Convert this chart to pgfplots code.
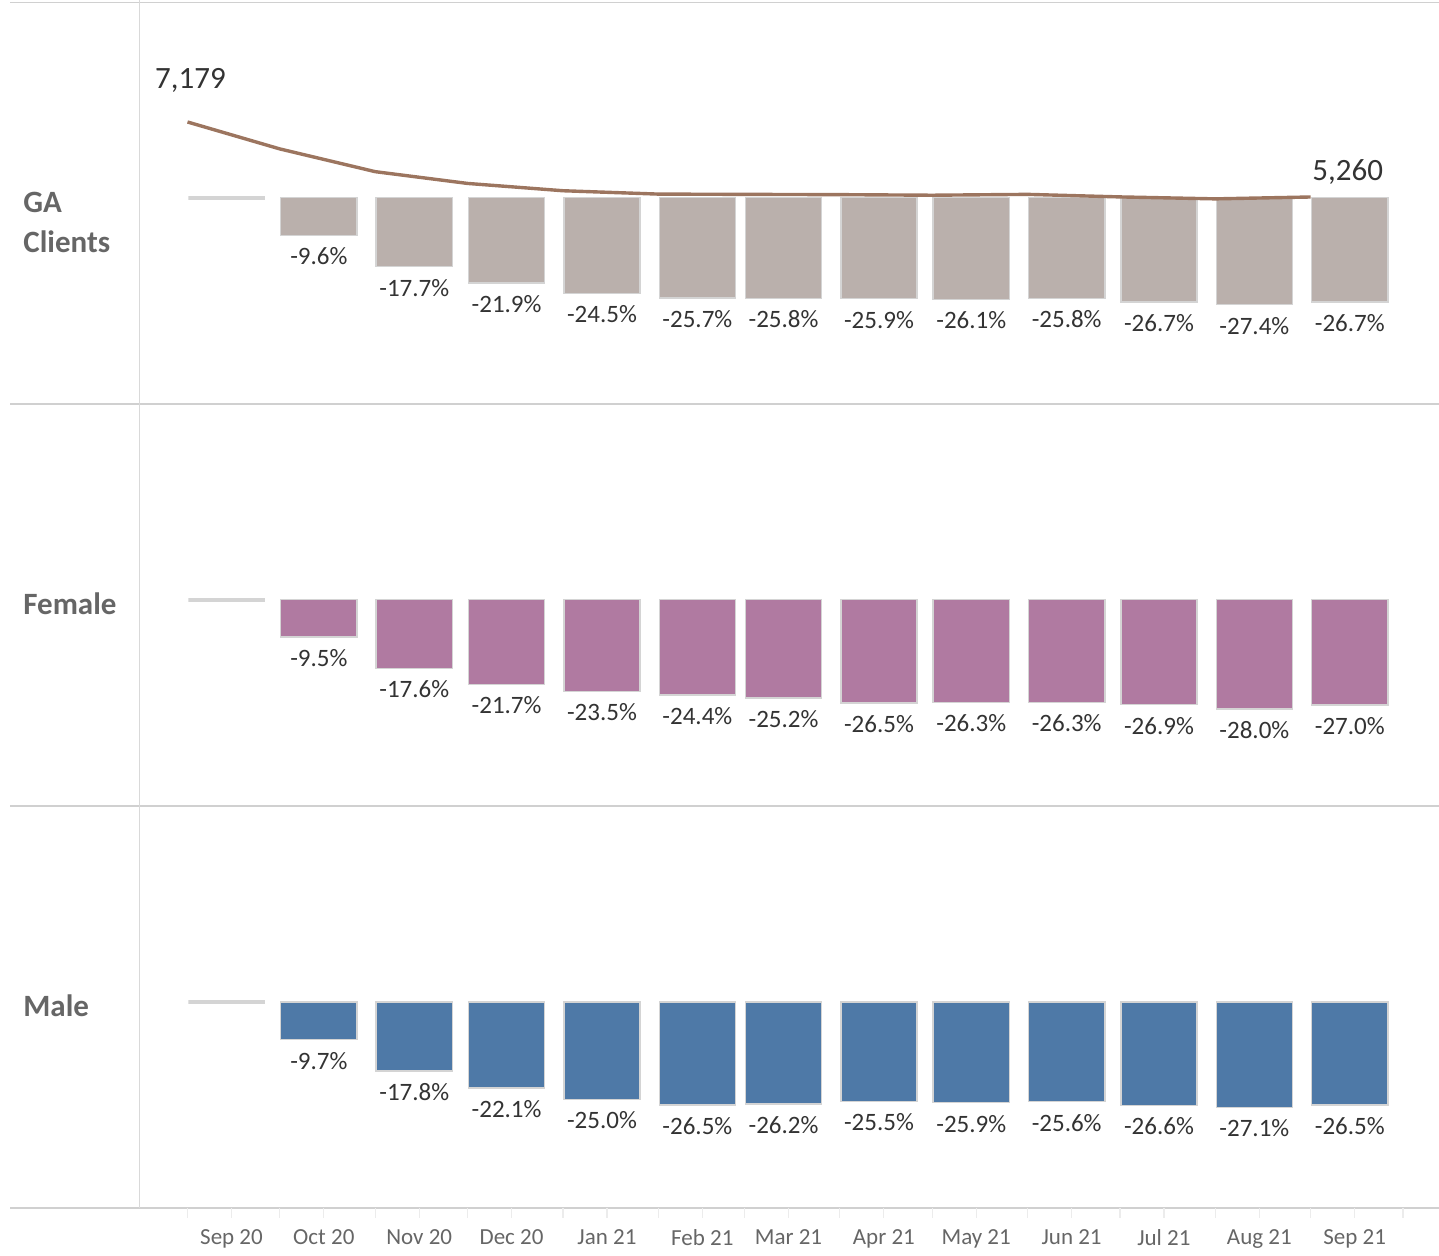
\documentclass[border=0pt]{standalone}
\usepackage{pgfplots}
\pgfplotsset{compat=1.18}
\usepackage{pgfplotstable}
\usepackage{fontspec}
\setmainfont{Carlito}
\definecolor{gaFill}{HTML}{BAB0AC}
\definecolor{femFill}{HTML}{B07AA1}
\definecolor{maleFill}{HTML}{4E79A7}
\definecolor{lineBrown}{HTML}{9C755F}
\definecolor{barBorder}{HTML}{D4D4D4}
\definecolor{sepGray}{HTML}{D0D0D0}
\definecolor{vGray}{HTML}{D9D9D9}
\definecolor{labText}{HTML}{333333}
\definecolor{rowText}{HTML}{666666}
\definecolor{tickGray}{HTML}{ECECEC}

% month start = days since 1 Sep 2020; % change vs Sep 20
\pgfplotstableread{
d ga fem male
30 -9.6 -9.5 -9.7
61 -17.7 -17.6 -17.8
91 -21.9 -21.7 -22.1
122 -24.5 -23.5 -25.0
153 -25.7 -24.4 -26.5
181 -25.8 -25.2 -26.2
212 -25.9 -26.5 -25.5
242 -26.1 -26.3 -25.9
273 -25.8 -26.3 -25.6
303 -26.7 -26.9 -26.6
334 -27.4 -28.0 -27.1
365 -26.7 -27.0 -26.5
}\changes

\pgfplotstableread{
d base
0 0
}\baseline

\pgfplotstableread{
d clients
0 7179
30 6490
61 5908
91 5607
122 5420
153 5334
181 5327
212 5320
242 5305
273 5327
303 5262
334 5212
365 5260
}\clients

\pgfplotsset{
  rowaxis/.style={scale only axis, width=649.5pt, height=200.75pt,
    anchor=south west, xmin=-15.44, xmax=406.7, ymin=-52.9, ymax=50.1,
    axis line style={draw=none}, ytick=\empty, xtick=\empty,
    clip=false, enlargelimits=false},
  chg/.style={ybar, bar width=24.8, bar shift=0pt, fill=#1, draw=barBorder,
    line width=0.7pt,
    point meta=y,
    nodes near coords={\pgfmathprintnumber[fixed,fixed zerofill,precision=1,assume math mode=true]{\pgfplotspointmeta}\%},
    nodes near coords align={anchor=center, yshift=-10.5pt},
    every node near coord/.append style={font=\fontsize{12.5}{15}\selectfont, text=labText}},
  basebar/.style={ybar, bar width=24.8, bar shift=0pt, fill=none, draw=barBorder, line width=1.75pt},
}

\begin{document}
\begin{tikzpicture}
\useasboundingbox (0,0) rectangle (719.5pt,627.5pt);
% separators
\draw[sepGray, line width=0.75pt] (5pt,626.25pt) -- (719.5pt,626.25pt);
\draw[sepGray, line width=0.75pt] (5pt,425.5pt) -- (719.5pt,425.5pt);
\draw[sepGray, line width=0.75pt] (5pt,224.5pt) -- (719.5pt,224.5pt);
\draw[sepGray, line width=0.75pt] (5pt,23.5pt) -- (719.5pt,23.5pt);
\draw[vGray, line width=0.5pt] (69.75pt,627.5pt) -- (69.75pt,23.5pt);

% row labels
\node[anchor=base west, inner sep=0pt, text=rowText, font=\bfseries\fontsize{15.5}{19}\selectfont] at (11.5pt,521.25pt) {GA};
\node[anchor=base west, inner sep=0pt, text=rowText, font=\bfseries\fontsize{15.5}{19}\selectfont] at (11.5pt,501pt) {Clients};
\node[anchor=base west, inner sep=0pt, text=rowText, font=\bfseries\fontsize{15.5}{19}\selectfont] at (11.5pt,320.5pt) {Female};
\node[anchor=base west, inner sep=0pt, text=rowText, font=\bfseries\fontsize{15.5}{19}\selectfont] at (11.5pt,119.5pt) {Male};

% Row 1: GA Clients
\begin{axis}[rowaxis, at={(70pt,425.5pt)}]
\addplot[basebar] table[x expr=\thisrow{d}+12.7, y=base] {\baseline};
\addplot[chg=gaFill] table[x expr=\thisrow{d}+12.7, y=ga] {\changes};
\end{axis}
\begin{axis}[scale only axis, width=649.5pt, height=200.75pt, anchor=south west,
  at={(70pt,425.5pt)}, xmin=-15.44, xmax=406.7, ymin=-37, ymax=10237,
  hide axis, clip=false]
\addplot[lineBrown, line width=1.7pt, line join=round, mark=none] table[x=d, y=clients] {\clients};
\addplot[draw=none, mark=none, point meta=explicit symbolic, nodes near coords,
  nodes near coords align={anchor=center, xshift=1.5pt, yshift=21pt},
  every node near coord/.append style={font=\fontsize{15.5}{18}\selectfont, text=labText}]
  table[x=d, y=v, meta=lab] {
d v lab
0 7179 7,179
};
\addplot[draw=none, mark=none, point meta=explicit symbolic, nodes near coords,
  nodes near coords align={anchor=center, xshift=18.5pt, yshift=12.5pt},
  every node near coord/.append style={font=\fontsize{15.5}{18}\selectfont, text=labText}]
  table[x=d, y=v, meta=lab] {
d v lab
365 5260 5,260
};
\end{axis}

% Row 2: Female
\begin{axis}[rowaxis, at={(70pt,224.5pt)}]
\addplot[basebar] table[x expr=\thisrow{d}+12.7, y=base] {\baseline};
\addplot[chg=femFill] table[x expr=\thisrow{d}+12.7, y=fem] {\changes};
\end{axis}

% Row 3: Male
\begin{axis}[rowaxis, at={(70pt,23.5pt)},
  xtick={14.3,44.3,75.3,105.3,136.3,167.3,195.3,226.3,256.3,287.3,317.3,348.3,379.3},
  xticklabels={Sep 20,Oct 20,Nov 20,Dec 20,Jan 21,Feb 21,Mar 21,Apr 21,May 21,Jun 21,Jul 21,Aug 21,Sep 21},
  minor xtick={0,30,61,91,122,153,181,212,242,273,303,334,365,395},
  tick pos=left, tick align=outside,
  major tick length=5pt, minor tick length=5pt,
  every tick/.style={tickGray, line width=0.6pt},
  xticklabel style={font=\fontsize{11.5}{13}\selectfont, text=rowText, yshift=-2.2pt}]
\addplot[basebar] table[x expr=\thisrow{d}+12.7, y=base] {\baseline};
\addplot[chg=maleFill] table[x expr=\thisrow{d}+12.7, y=male] {\changes};
\end{axis}
\end{tikzpicture}
\end{document}
